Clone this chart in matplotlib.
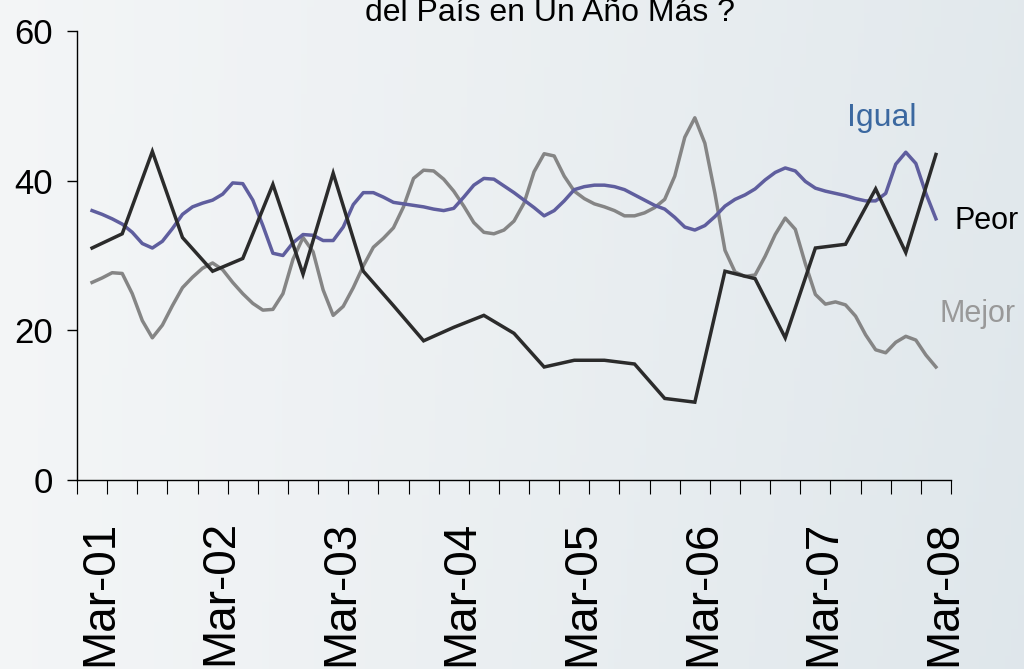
import numpy as np
import matplotlib
matplotlib.use("Agg")
import matplotlib.pyplot as plt
import matplotlib.transforms as mtransforms

# Datos (porcentajes), Mar-01 a Mar-08
meses = np.arange(85)            # mensual
trimestres = np.arange(0, 85, 3)  # trimestral

igual = [36.0, 35.5, 34.9, 34.2, 33.1, 31.6, 31.0, 31.9, 33.6, 35.5,
         36.5, 37.0, 37.4, 38.2, 39.7, 39.6, 37.4, 34.0, 30.3, 30.0,
         31.7, 32.8, 32.7, 32.0, 32.0, 33.8, 36.8, 38.4, 38.4, 37.8,
         37.1, 36.9, 36.7, 36.5, 36.2, 36.0, 36.3, 37.8, 39.4, 40.3,
         40.2, 39.3, 38.4, 37.4, 36.4, 35.3, 36.0, 37.3, 38.8, 39.2,
         39.4, 39.4, 39.2, 38.8, 38.1, 37.4, 36.7, 36.2, 35.1, 33.8,
         33.4, 34.0, 35.2, 36.6, 37.5, 38.1, 38.9, 40.1, 41.1, 41.7,
         41.3, 39.9, 39.0, 38.6, 38.3, 38.0, 37.6, 37.3, 37.3, 38.3,
         42.2, 43.8, 42.3, 38.3, 34.9]

mejor = [26.4, 27.0, 27.7, 27.6, 24.9, 21.3, 19.0, 20.7, 23.3, 25.7,
         27.1, 28.3, 29.0, 28.1, 26.4, 24.9, 23.6, 22.7, 22.8, 24.9,
         29.5, 32.4, 30.5, 25.4, 22.0, 23.2, 25.7, 28.6, 31.1, 32.3,
         33.7, 36.5, 40.3, 41.4, 41.3, 40.2, 38.6, 36.6, 34.4, 33.1,
         32.9, 33.4, 34.6, 37.0, 41.2, 43.6, 43.3, 40.6, 38.6, 37.6,
         36.9, 36.5, 36.0, 35.3, 35.3, 35.7, 36.4, 37.5, 40.6, 45.8,
         48.4, 45.0, 38.3, 30.7, 27.8, 27.2, 27.4, 29.9, 32.8, 35.0,
         33.5, 28.9, 24.8, 23.5, 23.8, 23.4, 21.9, 19.4, 17.4, 17.0,
         18.4, 19.2, 18.7, 16.7, 15.1]

peor = [31.0, 32.9, 43.9, 32.4, 27.9, 29.6, 39.5, 27.5, 41.0, 27.9,
        23.3, 18.6, 20.4, 22.0, 19.6, 15.1, 16.0, 16.0, 15.5, 10.9,
        10.4, 27.9, 26.9, 19.0, 31.0, 31.5, 38.9, 30.4, 43.5]

etiquetas = ["Mar-01", "Mar-02", "Mar-03", "Mar-04",
             "Mar-05", "Mar-06", "Mar-07", "Mar-08"]
titulo = "del País en Un Año Más ?"

fuente = "Liberation Sans"

fig = plt.figure(figsize=(10.24, 6.69), dpi=100)

# fondo degradado
bg = fig.add_axes([0, 0, 1, 1], zorder=-10)
h, w = 100, 160
gx = np.linspace(0, 1, w)[None, :, None]
gy = np.linspace(0, 1, h)[:, None, None]
izq = np.array([0.955, 0.962, 0.967])
der = np.array([0.875, 0.905, 0.922])
img = izq + (der - izq) * (gx ** 1.1) * (0.85 + 0.15 * gy)
bg.imshow(np.clip(img, 0, 1), aspect="auto", extent=[0, 1, 0, 1])
bg.axis("off")

ax = fig.add_axes([77 / 1024, 1 - 480 / 669, 874 / 1024, 449 / 669])
ax.patch.set_alpha(0)

ax.plot(meses, mejor, color="#858585", lw=2.5, solid_joinstyle="round")
ax.plot(meses, igual, color="#5f5e9e", lw=2.5, solid_joinstyle="round")
ax.plot(trimestres, peor, color="#2b2b2b", lw=2.5, solid_joinstyle="miter")

ax.set_xlim(-1.5, 85.5)
ax.set_ylim(0, 60)
for s in ["top", "right"]:
    ax.spines[s].set_visible(False)
for s in ["left", "bottom"]:
    ax.spines[s].set_linewidth(1.0)
    ax.spines[s].set_color("black")

ax.set_yticks([0, 20, 40, 60])
ax.set_yticklabels(["0", "20", "40", "60"], family=fuente, fontsize=25)
ax.tick_params(axis="y", length=7.5, width=1, pad=10)

ax.set_xticks(np.arange(-1.5, 86, 3))
ax.set_xticklabels([])
ax.tick_params(axis="x", which="major", length=10, width=0.8)
ax.set_xticks(np.arange(0, 85, 12), minor=True)
ax.set_xticklabels(etiquetas, minor=True, rotation=90, family=fuente,
                   fontsize=33, ha="center", va="top")
ax.tick_params(axis="x", which="minor", length=0, pad=29)
desp = mtransforms.ScaledTranslation(0.08, 0, fig.dpi_scale_trans)
for lab in ax.get_xticklabels(minor=True):
    lab.set_transform(lab.get_transform() + desp)

ax.text(78.6, 47.3, "Igual", color="#3b68a0", fontsize=23, family=fuente,
        ha="center", va="baseline")
ax.text(85.8, 33.6, "Peor", color="black", fontsize=22, family=fuente,
        ha="left", va="baseline", clip_on=False)
ax.text(84.4, 21.1, "Mejor", color="#999999", fontsize=22, family=fuente,
        ha="left", va="baseline", clip_on=False)

fig.text(0.537, 1 - 21 / 669, titulo, fontsize=23, family=fuente,
         ha="center", va="baseline")

fig.savefig("out.png", dpi=100)
